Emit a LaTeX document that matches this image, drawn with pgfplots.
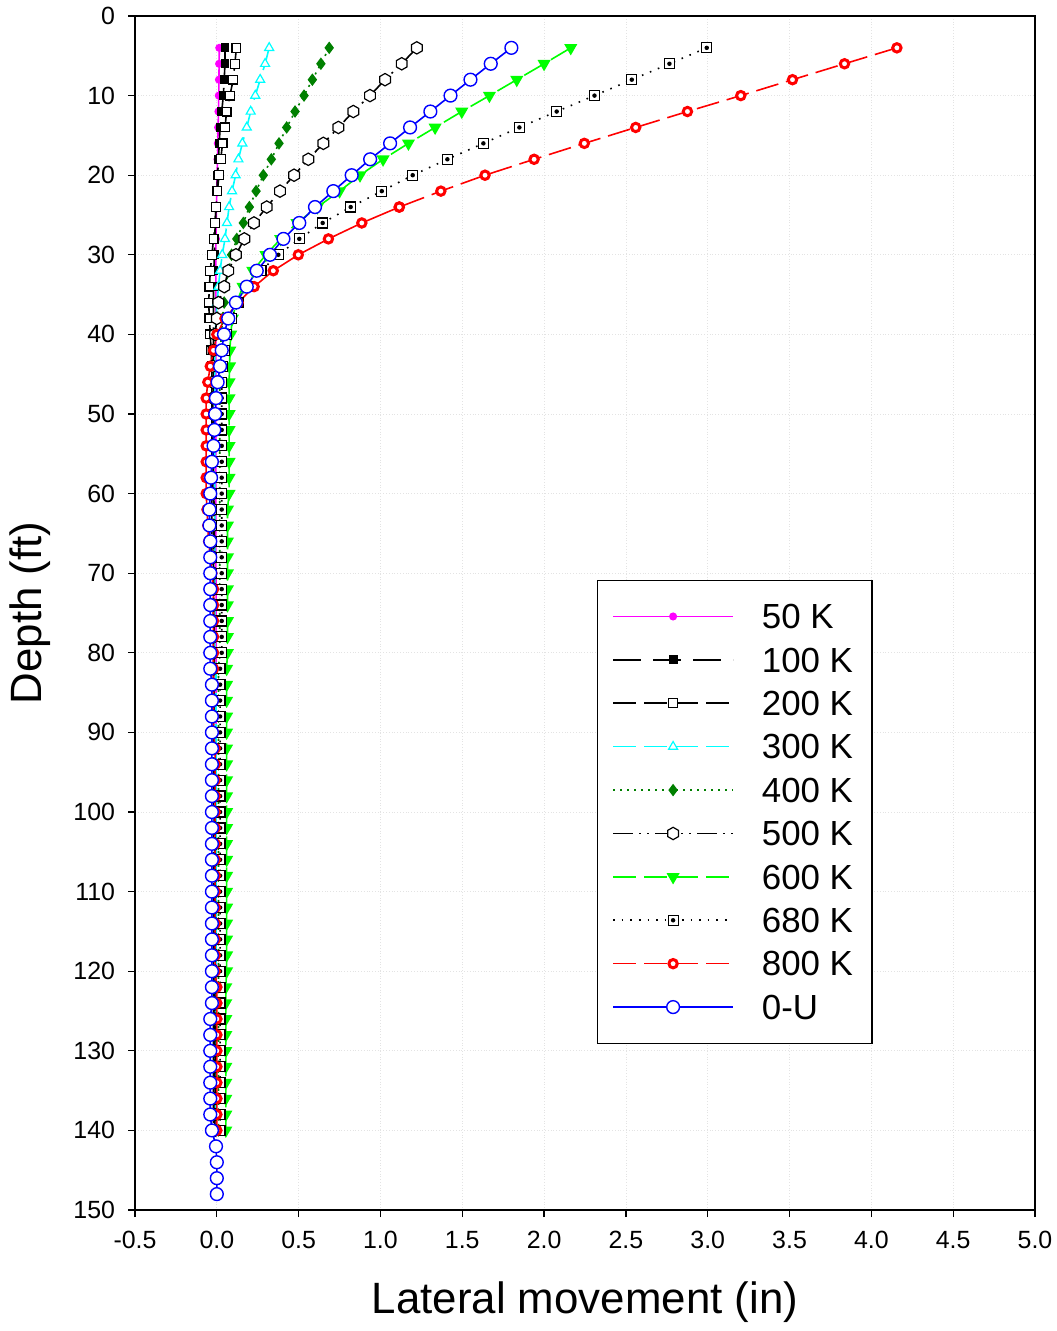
\documentclass[border=0pt]{standalone}
\usepackage{pgfplots}
\pgfplotsset{compat=1.18}
\usepackage{fontspec}
\setmainfont{Liberation Sans}
\definecolor{mag}{RGB}{255,0,255}
\definecolor{cy}{RGB}{0,255,255}
\definecolor{dgreen}{RGB}{0,128,0}
\definecolor{lgreen}{RGB}{0,255,0}
\pgfdeclareplotmark{hexagon}{%
  \pgfpathmoveto{\pgfpointpolar{90}{\pgfplotmarksize}}%
  \pgfpathlineto{\pgfpointpolar{150}{\pgfplotmarksize}}%
  \pgfpathlineto{\pgfpointpolar{210}{\pgfplotmarksize}}%
  \pgfpathlineto{\pgfpointpolar{270}{\pgfplotmarksize}}%
  \pgfpathlineto{\pgfpointpolar{330}{\pgfplotmarksize}}%
  \pgfpathlineto{\pgfpointpolar{30}{\pgfplotmarksize}}%
  \pgfpathclose
  \pgfusepathqfillstroke}
\pgfdeclareplotmark{sqdot}{%
  \pgfsetfillcolor{white}%
  \pgfpathrectangle{\pgfpoint{-\pgfplotmarksize}{-\pgfplotmarksize}}{\pgfpoint{2\pgfplotmarksize}{2\pgfplotmarksize}}%
  \pgfusepathqfillstroke
  \pgfsetfillcolor{black}%
  \pgfpathcircle{\pgfpointorigin}{0.45\pgfplotmarksize}%
  \pgfusepathqfill}
\begin{document}
\begin{tikzpicture}
\begin{axis}[
  name=ax, at={(0,0)}, anchor=south west,
  scale only axis, width=450bp, height=597bp,
  xmin=-0.5, xmax=5.0, ymin=0, ymax=150, y dir=reverse,
  xtick={-0.5,0,0.5,1,1.5,2,2.5,3,3.5,4,4.5,5},
  xticklabels={-0.5,0.0,0.5,1.0,1.5,2.0,2.5,3.0,3.5,4.0,4.5,5.0},
  ytick={0,10,...,150},
  /pgf/number format/assume math mode=true,
  tick label style={font=\fontsize{12.5}{14}\selectfont},
  xticklabel style={yshift=-3.5bp},
  yticklabel style={xshift=-3bp},
  tick align=outside, xtick pos=left, ytick pos=left,
  major tick length=3.5bp,
  every tick/.style={black, line width=0.6bp},
  axis line style={line width=0.6bp},
  grid=major, grid style={densely dotted, gray!22, line width=0.4bp},
  xlabel={Lateral movement (in)}, ylabel={Depth (ft)},
  label style={font=\fontsize{22}{26}\selectfont},
  xlabel style={at={(axis description cs:0.5,0)}, anchor=center, yshift=-46bp},
  ylabel style={at={(axis description cs:0,0.5)}, anchor=center, yshift=52.5bp},
  every axis plot/.append style={line width=0.8bp},
  legend style={at={(0.513,0.528)}, anchor=north west, draw=black, line width=0.6bp, fill=white,
    inner xsep=7.5bp, inner ysep=10bp, row sep=5.4bp, font=\fontsize{17.5}{20}\selectfont,
    nodes={inner sep=2bp, text height=12.3bp, text depth=0bp},
    /tikz/every odd column/.append style={column sep=12bp}},
  legend cell align=left,
  legend image code/.code={\draw[mark repeat=2,mark phase=2,#1] plot coordinates {(0bp,0bp) (30bp,0bp) (60bp,0bp)};},
]
% 50 K
\addplot[mag, mark=*, mark size=1.6bp, mark options={solid, fill=mag}] coordinates {
(0.015,4)(0.014,6)(0.013,8)(0.012,10)(0.010,12)(0.008,14)(0.006,16)(0.004,18)(0.002,20)(0,22)
(-0.002,24)(-0.004,26)(-0.005,28)(-0.006,30)(-0.006,32)(-0.006,34)(-0.006,36)(-0.006,38)(-0.006,40)
(-0.006,42)(-0.006,44)(-0.006,46)(-0.006,48)(-0.006,50)(-0.006,52)(-0.006,54)(-0.006,56)(-0.006,58)(-0.006,60)
(-0.006,62)(-0.006,64)(-0.006,66)(-0.006,68)(-0.006,70)(-0.004,72)(-0.004,74)(-0.004,76)(-0.004,78)(-0.004,80)
(-0.004,82)(-0.004,84)(-0.004,86)(-0.004,88)(-0.004,90)(-0.004,92)(-0.004,94)(-0.004,96)(-0.004,98)(-0.004,100)
(-0.004,102)(-0.004,104)(-0.004,106)(-0.004,108)(-0.004,110)(-0.004,112)(-0.004,114)(-0.004,116)(-0.004,118)(-0.004,120)
(-0.004,122)(-0.004,124)(-0.004,126)(-0.004,128)(-0.004,130)(-0.004,132)(-0.004,134)(-0.004,136)(-0.004,138)(-0.004,140)};
\addlegendentry{50 K}
% 100 K
\addplot[black, dash pattern=on 14bp off 6bp, mark=square*, mark size=1.8bp, mark options={solid, fill=black}] coordinates {
(0.05,4)(0.05,6)(0.045,8)(0.04,10)(0.03,12)(0.02,14)(0.015,16)(0.01,18)(0.005,20)(0,22)
(-0.005,24)(-0.01,26)(-0.012,28)(-0.015,30)(-0.018,32)(-0.02,34)(-0.02,36)(-0.02,38)(-0.02,40)
(-0.02,42)(-0.02,44)(-0.02,46)(-0.02,48)(-0.02,50)(-0.02,52)(-0.02,54)(-0.02,56)(-0.02,58)(-0.02,60)
(-0.015,62)(-0.015,64)(-0.015,66)(-0.015,68)(-0.015,70)(-0.015,72)(-0.015,74)(-0.015,76)(-0.015,78)(-0.015,80)
(-0.015,82)(-0.015,84)(-0.015,86)(-0.015,88)(-0.015,90)(-0.015,92)(-0.015,94)(-0.015,96)(-0.015,98)(-0.015,100)
(-0.01,102)(-0.01,104)(-0.01,106)(-0.01,108)(-0.01,110)(-0.01,112)(-0.01,114)(-0.01,116)(-0.01,118)(-0.01,120)
(-0.01,122)(-0.01,124)(-0.01,126)(-0.01,128)(-0.01,130)(-0.01,132)(-0.01,134)(-0.01,136)(-0.01,138)(-0.01,140)};
\addlegendentry{100 K}
% 200 K
\addplot[black, dash pattern=on 11.5bp off 4bp, mark=square*, mark size=2.2bp, mark options={solid, fill=white, line width=0.6bp}] coordinates {
(0.12,4)(0.11,6)(0.10,8)(0.08,10)(0.06,12)(0.05,14)(0.035,16)(0.024,18)(0.014,20)(0.003,22)
(-0.005,24)(-0.01,26)(-0.02,28)(-0.03,30)(-0.04,32)(-0.045,34)(-0.05,36)(-0.045,38)(-0.04,40)
(-0.035,42)(-0.03,44)(-0.03,46)(-0.03,48)(-0.03,50)(-0.03,52)(-0.03,54)(-0.03,56)(-0.03,58)(-0.03,60)
(-0.03,62)(-0.03,64)(-0.03,66)(-0.03,68)(-0.03,70)(-0.02,72)(-0.02,74)(-0.02,76)(-0.02,78)(-0.02,80)
(-0.02,82)(-0.02,84)(-0.02,86)(-0.02,88)(-0.02,90)(-0.02,92)(-0.02,94)(-0.02,96)(-0.02,98)(-0.02,100)
(-0.02,102)(-0.02,104)(-0.02,106)(-0.02,108)(-0.02,110)(-0.02,112)(-0.02,114)(-0.02,116)(-0.02,118)(-0.02,120)
(-0.02,122)(-0.02,124)(-0.02,126)(-0.02,128)(-0.02,130)(-0.02,132)(-0.02,134)(-0.02,136)(-0.02,138)(-0.02,140)};
\addlegendentry{200 K}
% 300 K
\addplot[cy, dash pattern=on 11.5bp off 4bp, mark=triangle*, mark size=2.6bp, mark options={solid, fill=white, line width=0.6bp}] coordinates {
(0.32,4)(0.295,6)(0.265,8)(0.235,10)(0.207,12)(0.183,14)(0.156,16)(0.132,18)(0.115,20)(0.093,22)
(0.075,24)(0.062,26)(0.05,28)(0.033,30)(0.02,32)(0.01,34)(0.002,36)(-0.005,38)(-0.01,40)
(-0.012,42)(-0.012,44)(-0.012,46)(-0.012,48)(-0.012,50)(-0.012,52)(-0.012,54)(-0.012,56)(-0.012,58)(-0.012,60)
(-0.012,62)(-0.012,64)(-0.012,66)(-0.012,68)(-0.012,70)(-0.012,72)(-0.012,74)(-0.012,76)(-0.012,78)(-0.012,80)
(-0.005,82)(-0.005,84)(-0.005,86)(-0.005,88)(-0.005,90)(-0.005,92)(-0.005,94)(-0.005,96)(-0.005,98)(-0.005,100)
(-0.005,102)(-0.005,104)(-0.005,106)(-0.005,108)(-0.005,110)(-0.005,112)(-0.005,114)(-0.005,116)(-0.005,118)(-0.005,120)
(-0.005,122)(-0.005,124)(-0.005,126)(-0.005,128)(-0.005,130)(-0.005,132)(-0.005,134)(-0.005,136)(-0.005,138)(-0.005,140)};
\addlegendentry{300 K}
% 400 K
\addplot[dgreen, dash pattern=on 1bp off 2.5bp, mark=diamond*, mark size=2.5bp, mark options={solid, fill=dgreen}] coordinates {
(0.687,4)(0.636,6)(0.584,8)(0.533,10)(0.478,12)(0.427,14)(0.38,16)(0.333,18)(0.284,20)(0.24,22)
(0.199,24)(0.162,26)(0.122,28)(0.09,30)(0.07,32)(0.055,34)(0.045,36)(0.035,38)(0.028,40)
(0.022,42)(0.018,44)(0.018,46)(0.018,48)(0.018,50)(0.018,52)(0.018,54)(0.018,56)(0.018,58)(0.018,60)
(0.018,62)(0.018,64)(0.018,66)(0.018,68)(0.018,70)(0.018,72)(0.018,74)(0.018,76)(0.018,78)(0.018,80)
(0.01,82)(0.01,84)(0.01,86)(0.01,88)(0.01,90)(0.01,92)(0.01,94)(0.01,96)(0.01,98)(0.01,100)
(0.01,102)(0.01,104)(0.01,106)(0.01,108)(0.01,110)(0.01,112)(0.01,114)(0.01,116)(0.01,118)(0.01,120)
(0.01,122)(0.01,124)(0.01,126)(0.01,128)(0.01,130)(0.01,132)(0.01,134)(0.01,136)(0.01,138)(0.01,140)};
\addlegendentry{400 K}
% 500 K
\addplot[black, dash pattern=on 10bp off 3bp on 1bp off 3bp on 1bp off 3bp, mark=hexagon, mark size=3.1bp, mark options={solid, fill=white, line width=0.6bp}] coordinates {
(1.222,4)(1.13,6)(1.028,8)(0.936,10)(0.834,12)(0.743,14)(0.651,16)(0.559,18)(0.472,20)(0.386,22)
(0.305,24)(0.227,26)(0.168,28)(0.117,30)(0.07,32)(0.045,34)(0.01,36)(0,38)(-0.01,40)
(-0.02,42)(-0.025,44)(-0.025,46)(-0.025,48)(-0.025,50)(-0.025,52)(-0.025,54)(-0.025,56)(-0.025,58)(-0.025,60)
(-0.02,62)(-0.02,64)(-0.02,66)(-0.02,68)(-0.02,70)(-0.02,72)(-0.02,74)(-0.02,76)(-0.02,78)(-0.02,80)
(-0.02,82)(-0.02,84)(-0.02,86)(-0.02,88)(-0.02,90)(-0.02,92)(-0.02,94)(-0.02,96)(-0.02,98)(-0.02,100)
(-0.012,102)(-0.012,104)(-0.012,106)(-0.012,108)(-0.012,110)(-0.012,112)(-0.012,114)(-0.012,116)(-0.012,118)(-0.012,120)
(-0.012,122)(-0.012,124)(-0.012,126)(-0.012,128)(-0.012,130)(-0.012,132)(-0.012,134)(-0.012,136)(-0.012,138)(-0.012,140)};
\addlegendentry{500 K}
% 600 K
\addplot[lgreen, dash pattern=on 11.5bp off 4bp, mark=triangle*, mark size=3bp, mark options={solid, fill=lgreen, rotate=180}] coordinates {
(2.163,4)(2.0,6)(1.833,8)(1.666,10)(1.497,12)(1.334,14)(1.171,16)(1.016,18)(0.875,20)(0.75,22)
(0.615,24)(0.49,26)(0.39,28)(0.30,30)(0.22,32)(0.16,34)(0.12,36)(0.095,38)(0.085,40)
(0.08,42)(0.078,44)(0.075,46)(0.075,48)(0.075,50)(0.075,52)(0.075,54)(0.075,56)(0.075,58)(0.075,60)
(0.065,62)(0.065,64)(0.065,66)(0.065,68)(0.065,70)(0.065,72)(0.065,74)(0.065,76)(0.065,78)(0.065,80)
(0.06,82)(0.06,84)(0.06,86)(0.06,88)(0.06,90)(0.06,92)(0.06,94)(0.06,96)(0.06,98)(0.06,100)
(0.06,102)(0.06,104)(0.06,106)(0.06,108)(0.06,110)(0.06,112)(0.06,114)(0.06,116)(0.06,118)(0.06,120)
(0.055,122)(0.055,124)(0.055,126)(0.055,128)(0.055,130)(0.055,132)(0.055,134)(0.055,136)(0.055,138)(0.055,140)};
\addlegendentry{600 K}
% 680 K
\addplot[black, dash pattern=on 0.8bp off 3.5bp, mark=sqdot, mark size=2.5bp, mark options={solid, line width=0.6bp}] coordinates {
(2.994,4)(2.766,6)(2.536,8)(2.308,10)(2.077,12)(1.849,14)(1.629,16)(1.409,18)(1.197,20)(1.008,22)
(0.818,24)(0.647,26)(0.504,28)(0.376,30)(0.27,32)(0.19,34)(0.13,36)(0.09,38)(0.06,40)
(0.045,42)(0.035,44)(0.03,46)(0.03,48)(0.03,50)(0.03,52)(0.03,54)(0.03,56)(0.03,58)(0.03,60)
(0.03,62)(0.03,64)(0.03,66)(0.03,68)(0.03,70)(0.03,72)(0.03,74)(0.03,76)(0.03,78)(0.03,80)
(0.02,82)(0.02,84)(0.02,86)(0.02,88)(0.02,90)(0.02,92)(0.02,94)(0.02,96)(0.02,98)(0.02,100)
(0.02,102)(0.02,104)(0.02,106)(0.02,108)(0.02,110)(0.02,112)(0.02,114)(0.02,116)(0.02,118)(0.02,120)
(0.02,122)(0.02,124)(0.02,126)(0.02,128)(0.02,130)(0.02,132)(0.02,134)(0.02,136)(0.02,138)(0.02,140)};
\addlegendentry{680 K}
% 800 K (dashed upper part)
\addplot[red, dash pattern=on 11.5bp off 4bp, mark=*, mark size=2.1bp, mark options={solid, fill=white, line width=1.5bp}] coordinates {
(4.156,4)(3.836,6)(3.518,8)(3.202,10)(2.876,12)(2.56,14)(2.246,16)(1.939,18)(1.639,20)(1.369,22)(1.115,24)};
\addlegendentry{800 K}
% 800 K (solid lower part)
\addplot[red, solid, mark=*, mark size=2.1bp, mark options={solid, fill=white, line width=1.5bp}, forget plot] coordinates {
(1.115,24)(0.886,26)(0.682,28)(0.498,30)(0.345,32)(0.228,34)(0.13,36)(0.05,38)(0,40)
(-0.02,42)(-0.04,44)(-0.055,46)(-0.065,48)(-0.065,50)(-0.065,52)(-0.065,54)(-0.065,56)(-0.065,58)(-0.065,60)
(-0.06,62)(-0.055,64)(-0.05,66)(-0.04,68)(-0.03,70)(-0.02,72)(-0.02,74)(-0.02,76)(-0.02,78)(-0.02,80)
(-0.02,82)(-0.02,84)(-0.02,86)(-0.02,88)(-0.02,90)(-0.01,92)(-0.01,94)(-0.01,96)(-0.01,98)(-0.01,100)
(-0.01,102)(-0.01,104)(-0.01,106)(-0.01,108)(-0.01,110)(-0.01,112)(-0.01,114)(-0.01,116)(-0.01,118)(-0.01,120)
(0,122)(0,124)(0,126)(0,128)(0,130)(0,132)(0,134)(0,136)(0,138)(0,140)};
% 0-U
\addplot[blue, solid, mark=*, mark size=3.2bp, mark options={solid, fill=white, line width=0.7bp}] coordinates {
(1.80,4)(1.674,6)(1.55,8)(1.428,10)(1.305,12)(1.181,14)(1.059,16)(0.937,18)(0.824,20)(0.712,22)
(0.60,24)(0.504,26)(0.407,28)(0.325,30)(0.244,32)(0.183,34)(0.117,36)(0.07,38)(0.044,40)
(0.03,42)(0.02,44)(0.005,46)(-0.005,48)(-0.01,50)(-0.015,52)(-0.02,54)(-0.03,56)(-0.035,58)(-0.04,60)
(-0.045,62)(-0.045,64)(-0.04,66)(-0.04,68)(-0.04,70)(-0.04,72)(-0.04,74)(-0.04,76)(-0.04,78)(-0.04,80)
(-0.04,82)(-0.03,84)(-0.03,86)(-0.03,88)(-0.03,90)(-0.03,92)(-0.03,94)(-0.03,96)(-0.03,98)(-0.03,100)
(-0.03,102)(-0.03,104)(-0.03,106)(-0.03,108)(-0.03,110)(-0.03,112)(-0.03,114)(-0.03,116)(-0.03,118)(-0.03,120)
(-0.03,122)(-0.03,124)(-0.04,126)(-0.04,128)(-0.04,130)(-0.04,132)(-0.04,134)(-0.04,136)(-0.04,138)(-0.03,140)
(-0.005,142)(0,144)(0,146)(0,148)};
\addlegendentry{0-U}
\end{axis}
\pgfresetboundingbox
\path[use as bounding box] (-67.5bp,-60.5bp) rectangle (461bp,605bp);
\end{tikzpicture}
\end{document}
